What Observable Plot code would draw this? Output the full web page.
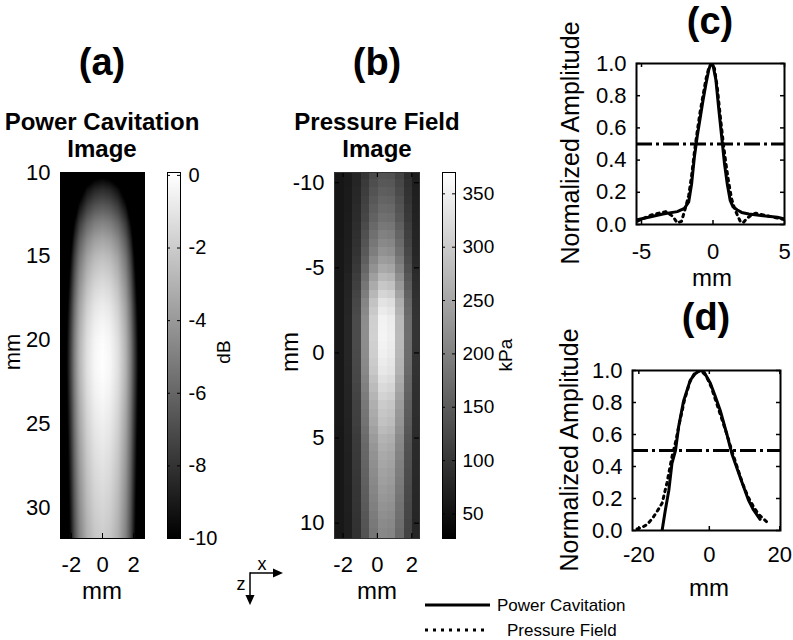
<!DOCTYPE html>
<html><head><meta charset="utf-8">
<script src="https://cdn.jsdelivr.net/npm/d3@7"></script>
<script src="https://cdn.jsdelivr.net/npm/@observablehq/plot@0.6"></script>
<style>
body{margin:0;background:#fff}
#fig{position:relative;width:793px;height:640px;overflow:hidden;background:#fff;font-family:"Liberation Sans",Arial,sans-serif}
</style></head><body><div id="fig"></div>
<script>
// ---------- Panel (c): lateral profiles (x in mm, normalized amplitude) ----------
const latPcX = [-5.3,-4.5,-3.5,-2.5,-2.0,-1.7,-1.5,-1.3,-1.1,-0.9,-0.7,-0.5,-0.3,-0.15,0,0.2,0.4,0.6,0.8,1.0,1.2,1.4,1.7,2.0,2.5,3.5,4.5,5.0];
const latPcY = [0.03,0.045,0.065,0.08,0.10,0.14,0.25,0.42,0.55,0.66,0.77,0.87,0.96,1.0,0.99,0.90,0.72,0.55,0.38,0.25,0.15,0.11,0.09,0.075,0.065,0.055,0.045,0.035];
const latPfX = [-5.3,-4.8,-4.3,-3.8,-3.3,-2.8,-2.5,-2.2,-2.0,-1.7,-1.5,-1.3,-1.1,-0.9,-0.7,-0.5,-0.3,-0.1,0.1,0.3,0.5,0.7,0.9,1.1,1.3,1.5,1.7,1.9,2.1,2.4,2.7,3.0,3.5,4.0,4.5,5.0];
const latPfY = [0.02,0.04,0.06,0.07,0.08,0.05,0.01,0.02,0.08,0.18,0.30,0.45,0.58,0.70,0.80,0.90,0.97,1.0,0.97,0.85,0.68,0.52,0.38,0.26,0.16,0.10,0.06,0.02,0.01,0.04,0.06,0.07,0.06,0.05,0.04,0.03];
// ---------- Panel (d): axial profiles ----------
const axPcX = [-13.4,-12.5,-11.5,-10.6,-9.6,-8.7,-7.3,-5.4,-4,-3,-2.5,-1.5,0.3,1.5,3.1,5.0,6.4,8.8,11.1,12.5,14.4];
const axPcY = [0.0,0.125,0.25,0.42,0.5,0.65,0.81,0.94,0.98,0.995,1.0,0.99,0.92,0.85,0.75,0.6,0.48,0.33,0.19,0.13,0.07];
const axPfX = [-20.5,-19,-17.5,-16,-14.8,-13.4,-12,-10.6,-9.5,-8.5,-7,-5.5,-4,-2.5,-1,0.5,2,3.5,5,6.5,8,9.5,11,12.5,14,15.5,17];
const axPfY = [0.01,0.02,0.04,0.08,0.12,0.17,0.30,0.46,0.56,0.67,0.82,0.93,0.99,1.0,0.97,0.90,0.80,0.70,0.60,0.49,0.39,0.29,0.21,0.15,0.10,0.07,0.04];
const halfMax = [0.5];
// ---------- Panel (a): power cavitation image (dB) ----------
const pciDepth   = [10,10.3,11,12,13,14,15,16,17,18,19,20,21,22,23,24,25,26,27,28,29,30,31,32];
const pciDepthDB = [-13,-10,-8.3,-6.5,-4.8,-3.5,-2.5,-1.8,-1.2,-0.7,-0.35,-0.1,0,-0.05,-0.2,-0.4,-0.6,-0.8,-1.0,-1.2,-1.4,-1.6,-1.8,-2.0];
const pciLatX    = [0,0.5,1,1.5,1.8,2.1,2.4,2.7];
const pciLatDB   = [0,-0.3,-1.2,-3,-5,-8,-11,-15];
// ---------- Panel (b): pressure field image (kPa) ----------
const pfDepth     = [-10.5,-8,-6,-5,-4,-3,-2,-1,0,1,2,3,4,5,6,8,10.5];
const pfCenterKPa = [141,182,229,262,303,343,363,366,360,350,330,309,296,276,262,242,215];
const pfLatX      = [-2.5,-2,-1.5,-1,-0.5,0,0.5,1,1.5,2,2.5];
const pfLatFrac   = [0.0,0.03,0.12,0.35,0.7,0.93,1.0,0.88,0.55,0.22,0.05];
const pfBackground = 55;
const pfCell = 0.5;
// ---------- ticks ----------
const ticksAx = [-2,0,2], ticksAy = [10,15,20,25,30], ticksAcb = [0,-2,-4,-6,-8,-10];
const ticksBx = [-2,0,2], ticksBy = [-10,-5,0,5,10], ticksBcb = [50,100,150,200,250,300,350];
const ticksCx = [-5,0,5], ticksDx = [-20,0,20], ticksAmp = [0,0.2,0.4,0.6,0.8,1.0];

const FONT = '"Liberation Sans", Arial, sans-serif';
const fig = document.getElementById("fig");
function lerp(xs, ys, v){
  const n = xs.length;
  if (v <= xs[0]) return ys[0];
  if (v >= xs[n-1]) return ys[n-1];
  const i = d3.bisectRight(xs, v) - 1;
  const t = (v - xs[i]) / (xs[i+1] - xs[i]);
  return ys[i] + t * (ys[i+1] - ys[i]);
}
function panel(f, m, opts, fs = "22px"){
  const p = Plot.plot({
    width: f.w + m.l + m.r, height: f.h + m.t + m.b,
    marginLeft: m.l, marginRight: m.r, marginTop: m.t, marginBottom: m.b,
    style: {fontFamily: FONT, fontSize: fs, background: "transparent", color: "black", overflow: "visible"},
    ...opts
  });
  p.style.position = "absolute";
  p.style.left = (f.x - m.l) + "px";
  p.style.top = (f.y - m.t) + "px";
  p.style.maxWidth = "none";
  fig.appendChild(p);
  return p;
}
function inner(xt, yt, f, len, sw){
  const o = {stroke: "black", strokeWidth: sw};
  const m = [];
  if (xt) m.push(Plot.ruleX(xt, {x: d => d, insetTop: f.h - len, ...o}), Plot.ruleX(xt, {x: d => d, insetBottom: f.h - len, ...o}));
  if (yt) m.push(Plot.ruleY(yt, {y: d => d, insetRight: f.w - len, ...o}), Plot.ruleY(yt, {y: d => d, insetLeft: f.w - len, ...o}));
  return m;
}
const fmt = d => String(d);
const fmt1 = d => d.toFixed(1);
const pts = (xs, ys) => xs.map((x, i) => ({x, y: ys[i]}));

// ---- (a) image ----
const fA = {x: 60, y: 172, w: 84, h: 366};
const domAx = [-2.7, 2.7], domAy = [10, 31.8];
const colA = {type: "linear", domain: [-10, 0], range: ["black", "white"], clamp: true};
panel(fA, {l: 58, r: 6, t: 6, b: 44}, {
  x: {domain: domAx}, y: {domain: domAy, reverse: true}, color: colA,
  marks: [
    Plot.raster({x1: domAx[0], x2: domAx[1], y1: domAy[0], y2: domAy[1], width: fA.w, height: fA.h,
      fill: (x, z) => Math.max(-10, lerp(pciDepth, pciDepthDB, z) + lerp(pciLatX, pciLatDB, Math.abs(x)))}),
    ...inner(ticksAx, ticksAy, fA, 5, 1),
    Plot.frame({stroke: "black", strokeWidth: 1}),
    Plot.axisX({ticks: ticksAx, tickSize: 0, tickPadding: 18, tickFormat: fmt, label: null}),
    Plot.axisY({ticks: ticksAy, tickSize: 0, tickPadding: 10, tickFormat: fmt, label: null})
  ]
});
// ---- (a) colorbar ----
const fAc = {x: 167, y: 172, w: 13, h: 366};
const domAc = [-10, 0.08];
panel(fAc, {l: 4, r: 50, t: 6, b: 16}, {
  x: {domain: [0, 1], axis: null}, y: {domain: domAc}, color: colA,
  marks: [
    Plot.raster({x1: 0, x2: 1, y1: domAc[0], y2: domAc[1], width: 1, height: fAc.h, fill: (x, v) => v}),
    ...inner(null, ticksAcb, fAc, 3, 1),
    Plot.frame({stroke: "black", strokeWidth: 1}),
    Plot.axisY({ticks: ticksAcb, anchor: "right", tickSize: 0, tickPadding: 8, tickFormat: fmt, label: null})
  ]
}, "20px");
// ---- (b) image ----
const fB = {x: 334, y: 172, w: 85, h: 366};
const domBx = [-2.5, 2.45], domBy = [-10.6, 10.9];
const colB = {type: "linear", domain: [27, 370], range: ["black", "white"], clamp: true};
panel(fB, {l: 52, r: 6, t: 6, b: 44}, {
  x: {domain: domBx}, y: {domain: domBy, reverse: true}, color: colB,
  marks: [
    Plot.raster({x1: domBx[0], x2: domBx[1], y1: domBy[0], y2: domBy[1], width: fB.w, height: fB.h, imageRendering: "pixelated",
      fill: (x, z) => {
        const cx = Math.floor(x / pfCell) * pfCell + pfCell / 2;
        const cz = Math.round(z / pfCell) * pfCell;
        return pfBackground + (lerp(pfDepth, pfCenterKPa, cz) - pfBackground) * lerp(pfLatX, pfLatFrac, cx);
      }}),
    ...inner(ticksBx, ticksBy, fB, 5, 1.2),
    Plot.frame({stroke: "#333", strokeWidth: 1}),
    Plot.axisX({ticks: ticksBx, tickSize: 0, tickPadding: 18, tickFormat: fmt, label: null}),
    Plot.axisY({ticks: ticksBy, tickSize: 0, tickPadding: 10, tickFormat: fmt, label: null})
  ]
});
// ---- (b) colorbar ----
const fBc = {x: 442, y: 172, w: 13, h: 366};
const domBc = [27, 370];
panel(fBc, {l: 4, r: 50, t: 6, b: 16}, {
  x: {domain: [0, 1], axis: null}, y: {domain: domBc}, color: colB,
  marks: [
    Plot.raster({x1: 0, x2: 1, y1: domBc[0], y2: domBc[1], width: 1, height: fBc.h, fill: (x, v) => v}),
    ...inner(null, ticksBcb, fBc, 3, 1),
    Plot.frame({stroke: "black", strokeWidth: 1}),
    Plot.axisY({ticks: ticksBcb, anchor: "right", tickSize: 0, tickPadding: 7, tickFormat: fmt, label: null})
  ]
}, "19px");
// ---- (c) lateral ----
const fC = {x: 636, y: 63, w: 148, h: 161};
panel(fC, {l: 62, r: 12, t: 8, b: 40}, {
  x: {domain: [-5.35, 5]}, y: {domain: [0, 1]},
  marks: [
    Plot.line(pts(latPfX, latPfY), {x: "x", y: "y", stroke: "black", strokeWidth: 3, strokeDasharray: "2.5,4.5", clip: true}),
    Plot.line(pts(latPcX, latPcY), {x: "x", y: "y", stroke: "black", strokeWidth: 3, clip: true}),
    Plot.ruleY(halfMax, {y: d => d, stroke: "black", strokeWidth: 3, strokeDasharray: "16,4,3,4"}),
    ...inner(ticksCx, ticksAmp, fC, 4, 1.5),
    Plot.frame({stroke: "black", strokeWidth: 2}),
    Plot.axisX({ticks: ticksCx, tickSize: 0, tickPadding: 19, tickFormat: fmt, label: null}),
    Plot.axisY({ticks: ticksAmp, tickSize: 0, tickPadding: 10, tickFormat: fmt1, label: null})
  ]
});
// ---- (d) axial ----
const fD = {x: 632, y: 370, w: 148, h: 160};
panel(fD, {l: 62, r: 12, t: 8, b: 40}, {
  x: {domain: [-21.8, 20.2]}, y: {domain: [0, 1]},
  marks: [
    Plot.line(pts(axPfX, axPfY), {x: "x", y: "y", stroke: "black", strokeWidth: 3, strokeDasharray: "2.5,4.5", clip: true}),
    Plot.line(pts(axPcX, axPcY), {x: "x", y: "y", stroke: "black", strokeWidth: 3, clip: true}),
    Plot.ruleY(halfMax, {y: d => d, stroke: "black", strokeWidth: 3, strokeDasharray: "16,4,3,4"}),
    ...inner(ticksDx, ticksAmp, fD, 4, 1.5),
    Plot.frame({stroke: "black", strokeWidth: 2}),
    Plot.axisX({ticks: ticksDx, tickSize: 0, tickPadding: 16, tickFormat: fmt, label: null}),
    Plot.axisY({ticks: ticksAmp, tickSize: 0, tickPadding: 10, tickFormat: fmt1, label: null})
  ]
});

// ---- overlay texts, legend, axes indicator ----
const ov = document.createElementNS("http://www.w3.org/2000/svg", "svg");
ov.setAttribute("width", 793); ov.setAttribute("height", 640);
ov.style.cssText = "position:absolute;left:0;top:0;pointer-events:none;font-family:" + FONT;
ov.innerHTML = `
<defs><marker id="ah" viewBox="0 0 10 10" refX="8" refY="5" markerWidth="7" markerHeight="7" markerUnits="strokeWidth" orient="auto"><path d="M0,0.5 L10,5 L0,9.5 Z" fill="black"/></marker></defs>
<g font-weight="bold" text-anchor="middle" fill="black">
  <text x="102" y="75" font-size="38">(a)</text>
  <text x="377" y="75" font-size="38">(b)</text>
  <text x="710" y="34" font-size="38">(c)</text>
  <text x="706" y="330" font-size="38">(d)</text>
  <text x="102" y="130" font-size="24">Power Cavitation</text>
  <text x="102" y="157" font-size="24">Image</text>
  <text x="377" y="130" font-size="24">Pressure Field</text>
  <text x="377" y="157" font-size="24">Image</text>
</g>
<g text-anchor="middle" fill="black" font-size="24">
  <text x="102" y="599">mm</text>
  <text x="377" y="599">mm</text>
  <text x="712" y="286">mm</text>
  <text x="709" y="596">mm</text>
  <text font-size="22" transform="translate(20,352) rotate(-90)">mm</text>
  <text transform="translate(298,352) rotate(-90)">mm</text>
  <text font-size="25" transform="translate(579,143) rotate(-90)">Normalized Amplitude</text>
  <text font-size="25" transform="translate(578,450) rotate(-90)">Normalized Amplitude</text>
  <text font-size="19" transform="translate(230,352) rotate(-90)">dB</text>
  <text font-size="19" transform="translate(512,355) rotate(-90)">kPa</text>
</g>
<g fill="black" font-size="17">
  <line x1="425" y1="605" x2="490" y2="605" stroke="black" stroke-width="3"/>
  <text x="497" y="611">Power Cavitation</text>
  <line x1="425" y1="630" x2="485" y2="630" stroke="black" stroke-width="3" stroke-dasharray="3,5"/>
  <text x="507" y="636">Pressure Field</text>
</g>
<g stroke="black" stroke-width="1.5" fill="none">
  <line x1="250" y1="573" x2="281" y2="573" marker-end="url(#ah)"/>
  <line x1="250" y1="572.3" x2="250" y2="603" marker-end="url(#ah)"/>
</g>
<g fill="black" font-size="18" text-anchor="middle">
  <text x="262" y="570">x</text>
  <text x="241" y="590">z</text>
</g>`;
fig.appendChild(ov);
</script></body></html>
